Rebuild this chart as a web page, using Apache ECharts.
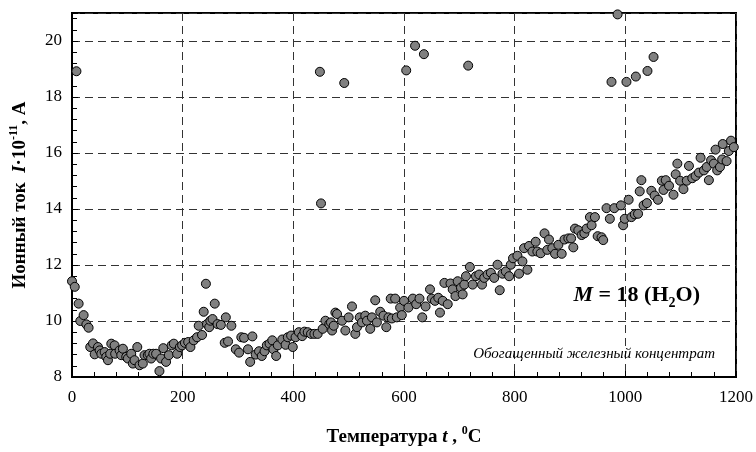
<!DOCTYPE html>
<html>
<head>
<meta charset="utf-8">
<script src="https://cdn.jsdelivr.net/npm/echarts@6/dist/echarts.min.js"></script>
<style>
  html, body { margin: 0; padding: 0; background: #fff; }
  #chart { width: 756px; height: 452px; }
</style>
</head>
<body>
<div id="chart"></div>
<script>
// температура, °C
const temps = [
  0, 5, 8, 12, 15, 21, 26, 30, 33, 38, 41, 47, 50, 53, 59, 62, 65, 69, 71, 77,
  78, 86, 89, 92, 98, 101, 107, 110, 113, 118, 122, 128, 131, 137, 140, 143, 147, 152, 158, 161,
  165, 170, 175, 180, 184, 190, 195, 199, 204, 210, 214, 220, 226, 229, 235, 238, 242, 244, 248, 250,
  254, 258, 263, 269, 276, 278, 282, 288, 296, 302, 306, 311, 318, 322, 326, 332, 338, 343, 348, 352,
  357, 362, 364, 369, 372, 380, 386, 390, 396, 399, 404, 410, 416, 420, 426, 432, 438, 444, 448, 450,
  453, 458, 465, 468, 470, 473, 476, 479, 488, 492, 494, 500, 506, 512, 515, 520, 524, 530, 533, 539,
  542, 548, 551, 557, 563, 568, 572, 576, 578, 584, 587, 593, 596, 600, 604, 608, 616, 620, 622, 628,
  633, 636, 639, 647, 650, 656, 662, 665, 670, 673, 679, 684, 688, 693, 697, 703, 706, 709, 712, 716,
  719, 724, 730, 736, 741, 745, 751, 757, 763, 769, 773, 778, 784, 790, 793, 797, 805, 808, 814, 817,
  823, 826, 832, 838, 841, 847, 854, 859, 862, 868, 873, 879, 885, 890, 897, 902, 906, 909, 915, 921,
  926, 930, 936, 939, 945, 950, 957, 960, 966, 972, 975, 980, 986, 992, 996, 999, 1002, 1006, 1011, 1017,
  1019, 1023, 1026, 1029, 1033, 1039, 1040, 1047, 1051, 1053, 1059, 1066, 1069, 1073, 1079, 1087, 1091, 1094, 1099, 1105,
  1111, 1115, 1121, 1127, 1133, 1136, 1142, 1147, 1151, 1155, 1160, 1163, 1166, 1171, 1175, 1176, 1183, 1187, 1191, 1196
]

// ионный ток I·10^-11, А
const currents = [
  11.42, 11.22, 18.92, 10.62, 10.0, 10.21, 9.88, 9.76, 9.07, 9.2, 8.81, 9.07, 8.95, 8.83, 8.89, 8.72, 8.6, 8.83, 9.19, 9.13,
  8.83, 8.95, 8.78, 9.01, 8.72, 8.66, 8.83, 8.48, 8.6, 9.07, 8.42, 8.48, 8.78, 8.78, 8.83, 8.66, 8.83, 8.83, 8.21, 8.66,
  9.03, 8.54, 8.78, 9.13, 9.19, 8.83, 9.07, 9.13, 9.22, 9.25, 9.07, 9.31, 9.42, 9.83, 9.5, 10.33, 11.33, 9.89, 9.78, 10.01,
  10.07, 10.62, 9.89, 9.86, 9.22, 10.13, 9.27, 9.83, 8.99, 8.87, 9.42, 9.4, 8.99, 8.54, 9.45, 8.8, 8.92, 8.75, 8.92, 9.13,
  9.19, 9.31, 8.99, 8.75, 9.13, 9.34, 9.15, 9.42, 9.48, 9.07, 9.42, 9.6, 9.46, 9.62, 9.6, 9.54, 9.54, 9.54, 18.9, 14.2,
  9.72, 10.01, 9.89, 9.95, 9.66, 9.83, 10.3, 10.25, 10.01, 18.5, 9.66, 10.13, 10.52, 9.54, 9.78, 10.13, 9.95, 10.19, 10.01, 9.72,
  10.13, 10.74, 9.95, 10.33, 10.19, 9.78, 10.13, 10.8, 10.09, 10.8, 10.13, 10.48, 10.21, 10.72, 18.95, 10.48, 10.8, 19.83, 10.6, 10.8,
  10.13, 19.53, 10.52, 11.13, 10.8, 10.72, 10.83, 10.3, 10.72, 11.36, 10.6, 11.34, 11.13, 10.89, 11.42, 11.19, 10.95, 11.3, 11.6, 19.12,
  11.93, 11.3, 11.6, 11.66, 11.3, 11.54, 11.66, 11.72, 11.54, 12.01, 11.1, 11.69, 11.77, 11.6, 12.01, 12.24, 12.33, 11.69, 12.13, 12.6,
  11.83, 12.68, 12.48, 12.83, 12.48, 12.42, 13.13, 12.54, 12.91, 12.6, 12.4, 12.72, 12.4, 12.91, 12.95, 12.95, 12.63, 13.3, 13.24, 13.07,
  13.13, 13.3, 13.71, 13.42, 13.71, 13.03, 12.99, 12.89, 14.03, 13.65, 18.54, 14.03, 20.95, 14.13, 13.42, 13.65, 18.54, 14.33, 13.71, 13.81,
  18.73, 13.83, 14.63, 15.03, 14.13, 14.21, 18.93, 14.65, 19.43, 14.48, 14.33, 15.01, 14.68, 15.03, 14.83, 14.51, 15.24, 15.62, 15.01, 14.71,
  15.01, 15.54, 15.1, 15.18, 15.3, 15.83, 15.38, 15.5, 15.03, 15.74, 15.62, 16.12, 15.38, 15.5, 15.77, 16.32, 15.71, 16.07, 16.44, 16.21
]

const xTicks = [0, 200, 400, 600, 800, 1000, 1200]
const yTicks = [8, 10, 12, 14, 16, 18, 20]

const points = temps.map((t, i) => [t, currents[i]])

const serif = '"Liberation Serif", "DejaVu Serif", serif'
const gridLine = { show: true, lineStyle: { color: '#333', type: [8, 5], width: 1 } }

// стили подписи осей: жирный, курсив, верхний индекс
const nameRich = {
  b: { fontFamily: serif, fontWeight: 'bold', fontSize: 19, color: '#000', lineHeight: 22, verticalAlign: 'bottom' },
  bi: { fontFamily: serif, fontWeight: 'bold', fontStyle: 'italic', fontSize: 19, color: '#000', lineHeight: 22, verticalAlign: 'bottom' },
  sup: { fontFamily: serif, fontWeight: 'bold', fontSize: 12, color: '#000', lineHeight: 22, verticalAlign: 'top' }
}

const mChart = echarts.init(document.getElementById('chart'))

const options = {
  animation: false,
  backgroundColor: '#fff',
  grid: {
    left: 69,
    right: 19,
    top: 13,
    bottom: 70,
    show: true,
    borderColor: '#000',
    borderWidth: 2,
    containLabel: false
  },
  xAxis: {
    type: 'value',
    min: xTicks[0],
    max: xTicks[xTicks.length - 1],
    interval: 200,
    axisLine: { show: true, lineStyle: { color: '#000', width: 2 } },
    axisTick: { show: true, inside: true, length: 6, lineStyle: { color: '#000' } },
    minorTick: { show: true, splitNumber: 5, length: 5, lineStyle: { color: '#000' } },
    splitLine: gridLine,
    axisLabel: {
      color: '#000',
      fontFamily: serif,
      fontSize: 17,
      margin: 12,
      formatter: (v) => String(v)
    },
    name: '{b|Температура }{bi|t}{b| , }{sup|0}{b|C}',
    nameLocation: 'middle',
    nameGap: 48,
    nameTextStyle: { rich: nameRich }
  },
  yAxis: {
    type: 'value',
    min: 8,
    max: 21,
    interval: 2,
    axisLine: { show: true, lineStyle: { color: '#000', width: 2 } },
    axisTick: { show: true, inside: true, length: 6, lineStyle: { color: '#000' } },
    minorTick: { show: true, splitNumber: 5, length: 5, lineStyle: { color: '#000' } },
    splitLine: gridLine,
    axisLabel: {
      color: '#000',
      fontFamily: serif,
      fontSize: 17,
      margin: 10,
      showMaxLabel: false,
      formatter: (v) => (yTicks.includes(v) ? String(v) : '')
    },
    name: '{b|Ионный ток  }{bi|I}{b|·10}{sup|-11}{b|, А}',
    nameLocation: 'middle',
    nameGap: 42,
    nameTextStyle: { rich: nameRich }
  },
  series: [
    {
      type: 'scatter',
      symbol: 'circle',
      symbolSize: 9,
      itemStyle: { color: '#808080', borderColor: '#000', borderWidth: 1, opacity: 1 },
      data: points,
      z: 5
    }
  ],
  graphic: [
    {
      type: 'text',
      right: 56,
      top: 284,
      z: 10,
      style: {
        text: '{mi|M}{m| = 18 (H}{sub|2}{m|O)}',
        rich: {
          m: { fontFamily: serif, fontWeight: 'bold', fontSize: 22, fill: '#000', lineHeight: 26, verticalAlign: 'top' },
          mi: { fontFamily: serif, fontWeight: 'bold', fontStyle: 'italic', fontSize: 22, fill: '#000', lineHeight: 26, verticalAlign: 'top' },
          sub: { fontFamily: serif, fontWeight: 'bold', fontSize: 14, fill: '#000', lineHeight: 26, verticalAlign: 'bottom' }
        }
      }
    },
    {
      type: 'text',
      right: 41,
      top: 347,
      z: 10,
      style: {
        text: 'Обогащенный железный концентрат',
        font: 'italic 15px "Liberation Serif", serif',
        fill: '#000'
      }
    }
  ]
}

mChart.setOption(options)
</script>
</body>
</html>
